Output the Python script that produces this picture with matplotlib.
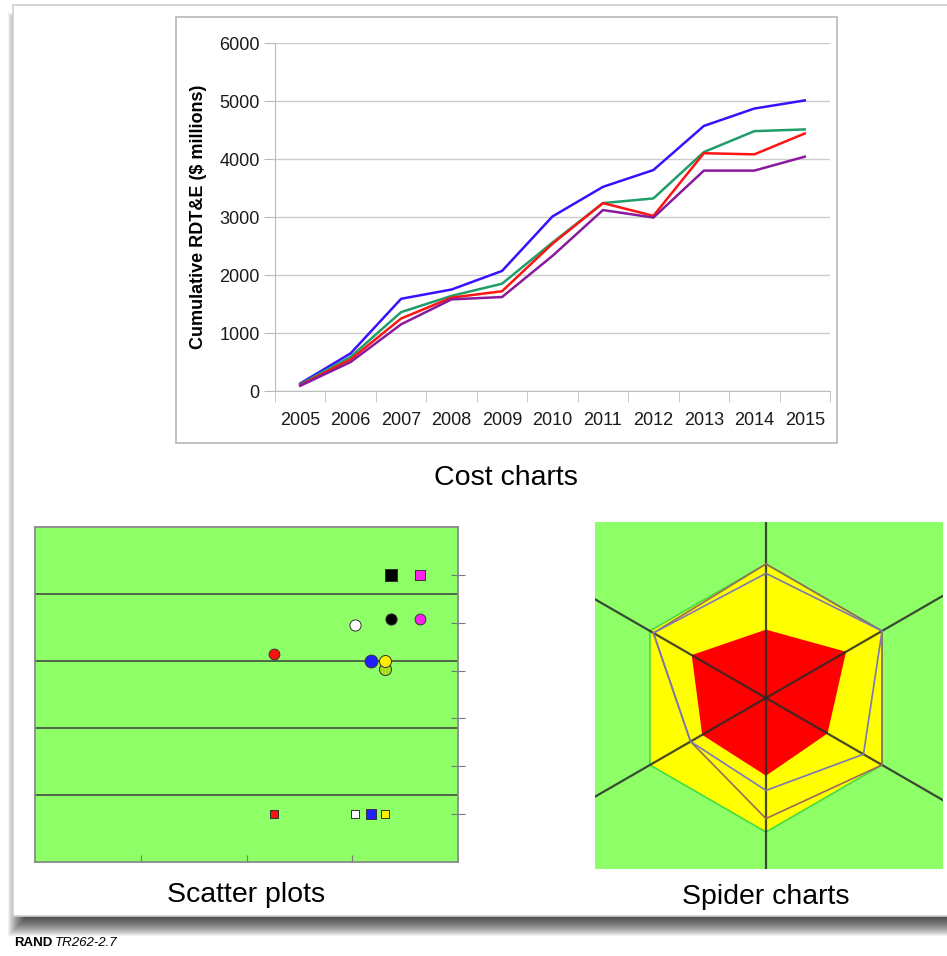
import matplotlib
matplotlib.use("Agg")
import matplotlib.pyplot as plt
from matplotlib import patches
import numpy as np

plt.rcParams['font.family'] = ['Liberation Sans', 'DejaVu Sans']

W, H = 947, 956  # 出力サイズ(px)

# --- コストチャートのデータ ---
years = ['2005', '2006', '2007', '2008', '2009', '2010',
         '2011', '2012', '2013', '2014', '2015']
cost_blue = [130, 650, 1590, 1750, 2070, 3010, 3520, 3810, 4570, 4870, 5010]
cost_green = [115, 590, 1360, 1640, 1850, 2560, 3240, 3320, 4120, 4480, 4510]
cost_red = [100, 545, 1250, 1610, 1720, 2540, 3240, 3020, 4100, 4080, 4440]
cost_purple = [90, 500, 1150, 1580, 1620, 2330, 3120, 2990, 3800, 3800, 4040]

# --- 散布図のデータ ---
scatter_x = [3.37, 3.64, 3.03, 3.37, 3.64, 2.26, 3.18, 3.31, 3.31,
             2.26, 3.03, 3.18, 3.31]
scatter_y = [30, 30, 24.8, 25.4, 25.4, 21.7, 21.0, 20.2, 21.0,
             5, 5, 5, 5]
scatter_marker = ['s', 's', 'o', 'o', 'o', 'o', 'o', 'o', 'o',
                  's', 's', 's', 's']
scatter_color = ['black', '#ff22ee', 'white', 'black', '#ff22ee', '#ff1010',
                 '#2020ff', '#a8e020', '#ffee00',
                 '#ff1010', 'white', '#2020ff', '#ffee00']
scatter_size = [80, 45, 65, 65, 60, 60, 85, 75, 75, 38, 38, 45, 38]

# --- スパイダーチャートのデータ(上から時計回り) ---
spider_axes = ['A', 'B', 'C', 'D', 'E', 'F']
spider_full = [1.0, 1.0, 1.0, 1.0, 1.0, 1.0]
spider_red = [0.51, 0.69, 0.53, 0.58, 0.55, 0.64]
spider_slate = [0.93, 1.0, 0.84, 0.69, 0.65, 0.97]
spider_brown = [1.0, 1.0, 1.0, 0.90, 0.65, 0.97]


def px_box(x0, y0, x1, y1):
    """ピクセル座標 -> figure座標"""
    return [x0 / W, 1 - y1 / H, (x1 - x0) / W, (y1 - y0) / H]


fig = plt.figure(figsize=(W / 100, H / 100), dpi=100, facecolor='white')

# --- 背景(カードと影) ---
bg = fig.add_axes([0, 0, 1, 1], zorder=-10)
bg.set_xlim(0, W)
bg.set_ylim(H, 0)
bg.axis('off')
for k in range(18):
    bg.add_patch(patches.Rectangle((25 - k, 30 - k), 960 + 2 * k, 889 + 2 * k,
                                   facecolor='black', edgecolor='none', alpha=0.055))
bg.add_patch(patches.Rectangle((13, 5), 960, 911, facecolor='white',
                               edgecolor='#cfcfcf', lw=1.2))
bg.add_patch(patches.Rectangle((176, 17), 661, 426, facecolor='white',
                               edgecolor='#b8b8b8', lw=1.2))

# --- コストチャート ---
ax = fig.add_axes(px_box(275, 43, 830, 391))
x = np.arange(len(years))
ax.plot(x, cost_blue, color='#3a10ff', lw=1.8)
ax.plot(x, cost_green, color='#1f9e6a', lw=1.8)
ax.plot(x, cost_red, color='#ff1414', lw=1.8)
ax.plot(x, cost_purple, color='#8a1a9c', lw=1.8)
ax.set_xlim(-0.5, len(years) - 0.5)
ax.set_ylim(0, 6000)
ax.set_yticks(np.arange(0, 6001, 1000))
ax.grid(axis='y', color='#cccccc', lw=1)
ax.set_axisbelow(True)
ax.set_xticks(x)
ax.set_xticklabels(years)
ax.set_xticks(np.arange(-0.5, len(years), 1), minor=True)
ax.tick_params(axis='x', which='major', length=0, pad=15, labelsize=13, labelcolor='#1a1a1a')
ax.tick_params(axis='x', which='minor', length=8, color='#bbbbbb')
ax.tick_params(axis='y', length=8, color='#bbbbbb', pad=3, labelsize=13, labelcolor='#1a1a1a')
for s in ['top', 'right']:
    ax.spines[s].set_visible(False)
ax.spines['left'].set_color('#bbbbbb')
ax.spines['bottom'].set_color('#bbbbbb')
ax.set_ylabel('Cumulative RDT&E ($ millions)', fontsize=13, fontweight='bold')
ax.yaxis.set_label_coords(-0.122, 0.5)

# --- 散布図 ---
ax2 = fig.add_axes(px_box(35, 527, 458, 862))
ax2.set_facecolor('#8eff66')
ax2.set_xlim(0, 4)
ax2.set_ylim(0, 35)
for yy in [7, 14, 21, 28]:
    ax2.axhline(yy, color='#4a5a44', lw=1.3, zorder=1)
for xi, yi, m, c, s in zip(scatter_x, scatter_y, scatter_marker, scatter_color, scatter_size):
    ax2.scatter(xi, yi, marker=m, color=c, s=s, edgecolors='#333333', linewidths=0.7, zorder=3)
ax2.yaxis.tick_right()
ax2.set_yticks(np.arange(5, 31, 5))
ax2.set_yticklabels([])
ax2.set_xticks([1, 2, 3])
ax2.set_xticklabels([])
ax2.tick_params(axis='y', direction='inout', length=10, color='#777777')
ax2.tick_params(axis='x', direction='in', length=5, color='#777777')
for s in ax2.spines.values():
    s.set_color('#8a8a8a')
    s.set_linewidth(1.3)

# --- スパイダーチャート ---
ax3 = fig.add_axes(px_box(595, 522, 943, 869))
ax3.set_facecolor('#8eff66')
ax3.set_xlim(-1.276, 1.321)
ax3.set_ylim(-1.276, 1.313)
ax3.set_aspect('equal')
ax3.set_xticks([])
ax3.set_yticks([])
for s in ax3.spines.values():
    s.set_visible(False)
ang = np.deg2rad([90, 30, -30, -90, -150, 150])


def poly(vals):
    v = np.array(vals)
    return np.column_stack([v * np.cos(ang), v * np.sin(ang)])


ax3.add_patch(patches.Polygon(poly(spider_full), closed=True, facecolor='#ffff00',
                              edgecolor='#44dd44', lw=1.2, zorder=1))
ax3.add_patch(patches.Polygon(poly(spider_red), closed=True, facecolor='#ff0000',
                              edgecolor='none', zorder=2))
for a in ang:
    ax3.plot([0, 2 * np.cos(a)], [0, 2 * np.sin(a)], color='#2a2a2a', lw=1.6,
             alpha=0.85, zorder=3)
ax3.add_patch(patches.Polygon(poly(spider_brown), closed=True, facecolor='none',
                              edgecolor='#9a6a5a', lw=1.2, zorder=4))
ax3.add_patch(patches.Polygon(poly(spider_slate), closed=True, facecolor='none',
                              edgecolor='#7a78b8', lw=1.2, zorder=5))

# --- テキスト ---
fig.text(506 / W, 1 - 478 / H, 'Cost charts', fontsize=20.5, ha='center', va='center')
fig.text(246 / W, 1 - 895 / H, 'Scatter plots', fontsize=20.5, ha='center', va='center')
fig.text(766 / W, 1 - 897 / H, 'Spider charts', fontsize=20.5, ha='center', va='center')
fig.text(14 / W, 1 - 943 / H, 'RAND', fontsize=9.5, fontweight='bold', va='center')
fig.text(55 / W, 1 - 943 / H, 'TR262-2.7', fontsize=9.5, style='italic', va='center')

fig.savefig('out.png', dpi=100)
